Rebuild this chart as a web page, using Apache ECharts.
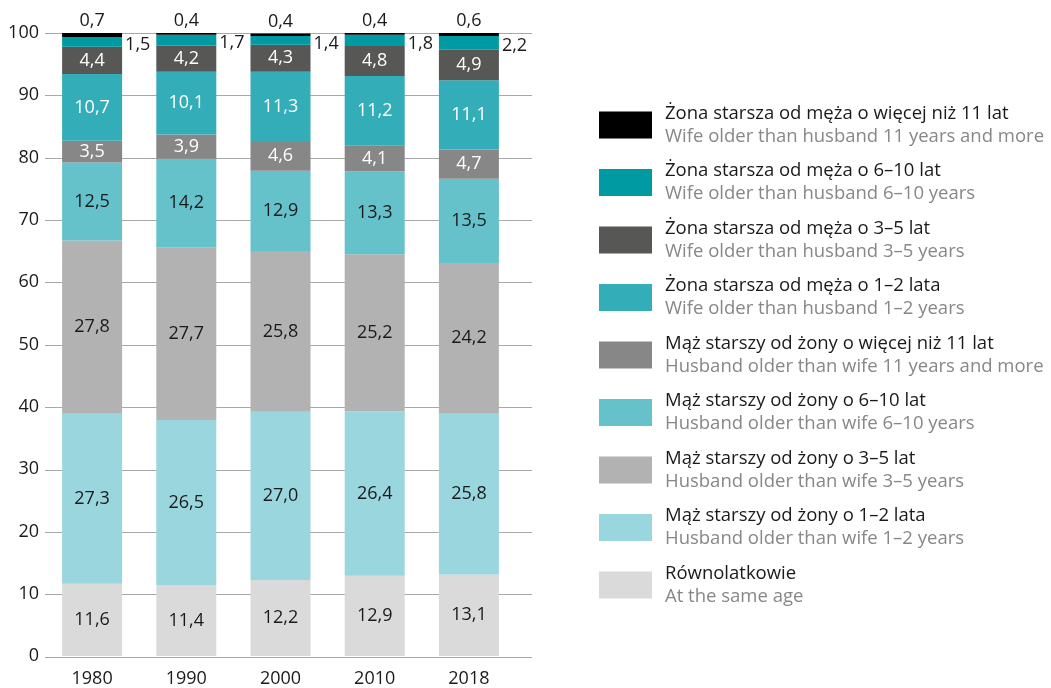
<!DOCTYPE html>
<html>
<head>
<meta charset="utf-8">
<script src="https://cdn.jsdelivr.net/npm/echarts@6/dist/echarts.min.js"></script>
<style>
html,body{margin:0;padding:0;background:#fff;}
#chart{width:1051px;height:688px;}
</style>
</head>
<body>
<div id="chart"></div>
<script>
const categories = ['1980', '1990', '2000', '2010', '2018'];
const yTicks = [0, 10, 20, 30, 40, 50, 60, 70, 80, 90, 100];

const sameAge        = [11.6, 11.4, 12.2, 12.9, 13.1];
const husband1to2    = [27.3, 26.5, 27.0, 26.4, 25.8];
const husband3to5    = [27.8, 27.7, 25.8, 25.2, 24.2];
const husband6to10   = [12.5, 14.2, 12.9, 13.3, 13.5];
const husband11plus  = [3.5, 3.9, 4.6, 4.1, 4.7];
const wife1to2       = [10.7, 10.1, 11.3, 11.2, 11.1];
const wife3to5       = [4.4, 4.2, 4.3, 4.8, 4.9];
const wife6to10      = [1.5, 1.7, 1.4, 1.8, 2.2];
const wife11plus     = [0.7, 0.4, 0.4, 0.4, 0.6];

const seriesDefs = [
  {pl:'Równolatkowie', en:'At the same age', data:sameAge, color:'#dadada', label:'#1a1a1a', pos:'inside'},
  {pl:'Mąż starszy od żony o 1–2 lata', en:'Husband older than wife 1–2 years', data:husband1to2, color:'#9ad6de', label:'#1a1a1a', pos:'inside'},
  {pl:'Mąż starszy od żony o 3–5 lat', en:'Husband older than wife 3–5 years', data:husband3to5, color:'#b2b2b2', label:'#1a1a1a', pos:'inside'},
  {pl:'Mąż starszy od żony o 6–10 lat', en:'Husband older than wife 6–10 years', data:husband6to10, color:'#66c2ca', label:'#1a1a1a', pos:'inside'},
  {pl:'Mąż starszy od żony o więcej niż 11 lat', en:'Husband older than wife 11 years and more', data:husband11plus, color:'#878787', label:'#ffffff', pos:'inside'},
  {pl:'Żona starsza od męża o 1–2 lata', en:'Wife older than husband 1–2 years', data:wife1to2, color:'#33adb8', label:'#ffffff', pos:'inside'},
  {pl:'Żona starsza od męża o 3–5 lat', en:'Wife older than husband 3–5 years', data:wife3to5, color:'#575756', label:'#ffffff', pos:'inside'},
  {pl:'Żona starsza od męża o 6–10 lat', en:'Wife older than husband 6–10 years', data:wife6to10, color:'#009aa2', label:'#1a1a1a', pos:'right'},
  {pl:'Żona starsza od męża o więcej niż 11 lat', en:'Wife older than husband 11 years and more', data:wife11plus, color:'#000000', label:'#1a1a1a', pos:'top'}
];

const FONT = 'Open Sans';
const enMap = {};
seriesDefs.forEach(s => enMap[s.pl] = s.en);

const series = seriesDefs.map(s => ({
  name: s.pl,
  type: 'bar',
  stack: 'total',
  xAxisIndex: 0,
  yAxisIndex: 0,
  barWidth: 60,
  data: s.data,
  itemStyle: {color: s.color},
  label: {
    show: true,
    position: s.pos,
    distance: 3,
    offset: s.pos === 'right' ? [0, 3] : [0, 0],
    color: s.label,
    fontFamily: FONT,
    fontSize: 18,
    formatter: p => p.value.toFixed(1).replace('.', ',')
  }
}));

const chart = echarts.init(document.getElementById('chart'));
chart.setOption({
  animation: false,
  textStyle: {fontFamily: FONT},
  grid: [
    {left: 45, top: 33, bottom: 31, width: 471},
    {left: 45, top: 33, bottom: 31, width: 487}
  ],
  xAxis: [
    {type: 'category', gridIndex: 0, data: categories,
     axisLine: {show: false}, axisTick: {show: false},
     axisLabel: {color: '#1a1a1a', fontSize: 18, fontFamily: FONT, margin: 14}},
    {type: 'value', gridIndex: 1, show: false, min: 0, max: 1}
  ],
  yAxis: [
    {type: 'value', gridIndex: 0, min: 0, max: 100, interval: 10,
     axisLine: {show: false}, axisTick: {show: false}, splitLine: {show: false},
     axisLabel: {color: '#1a1a1a', fontSize: 18, fontFamily: FONT, margin: 6,
       formatter: v => yTicks.includes(v) ? String(v) : ''}},
    {type: 'value', gridIndex: 1, min: 0, max: 100, interval: 10,
     axisLine: {show: false}, axisTick: {show: false}, axisLabel: {show: false},
     splitLine: {show: true, lineStyle: {color: '#a8a8a8', width: 1.2}}}
  ],
  legend: {
    orient: 'vertical',
    left: 594,
    top: 99,
    itemWidth: 53,
    itemHeight: 27,
    itemGap: 15.5,
    icon: 'rect',
    data: seriesDefs.slice().reverse().map(s => s.pl),
    formatter: name => '{a|' + name + '}\n{b|' + enMap[name] + '}',
    textStyle: {
      padding: [0, 0, 0, 8],
      rich: {
        a: {fontSize: 18.5, color: '#1a1a1a', fontFamily: FONT, lineHeight: 23},
        b: {fontSize: 18.5, color: '#878787', fontFamily: FONT, lineHeight: 23}
      }
    }
  },
  series: series.concat([{
    type: 'line', xAxisIndex: 1, yAxisIndex: 1, data: [], silent: true
  }])
});
</script>
</body>
</html>
